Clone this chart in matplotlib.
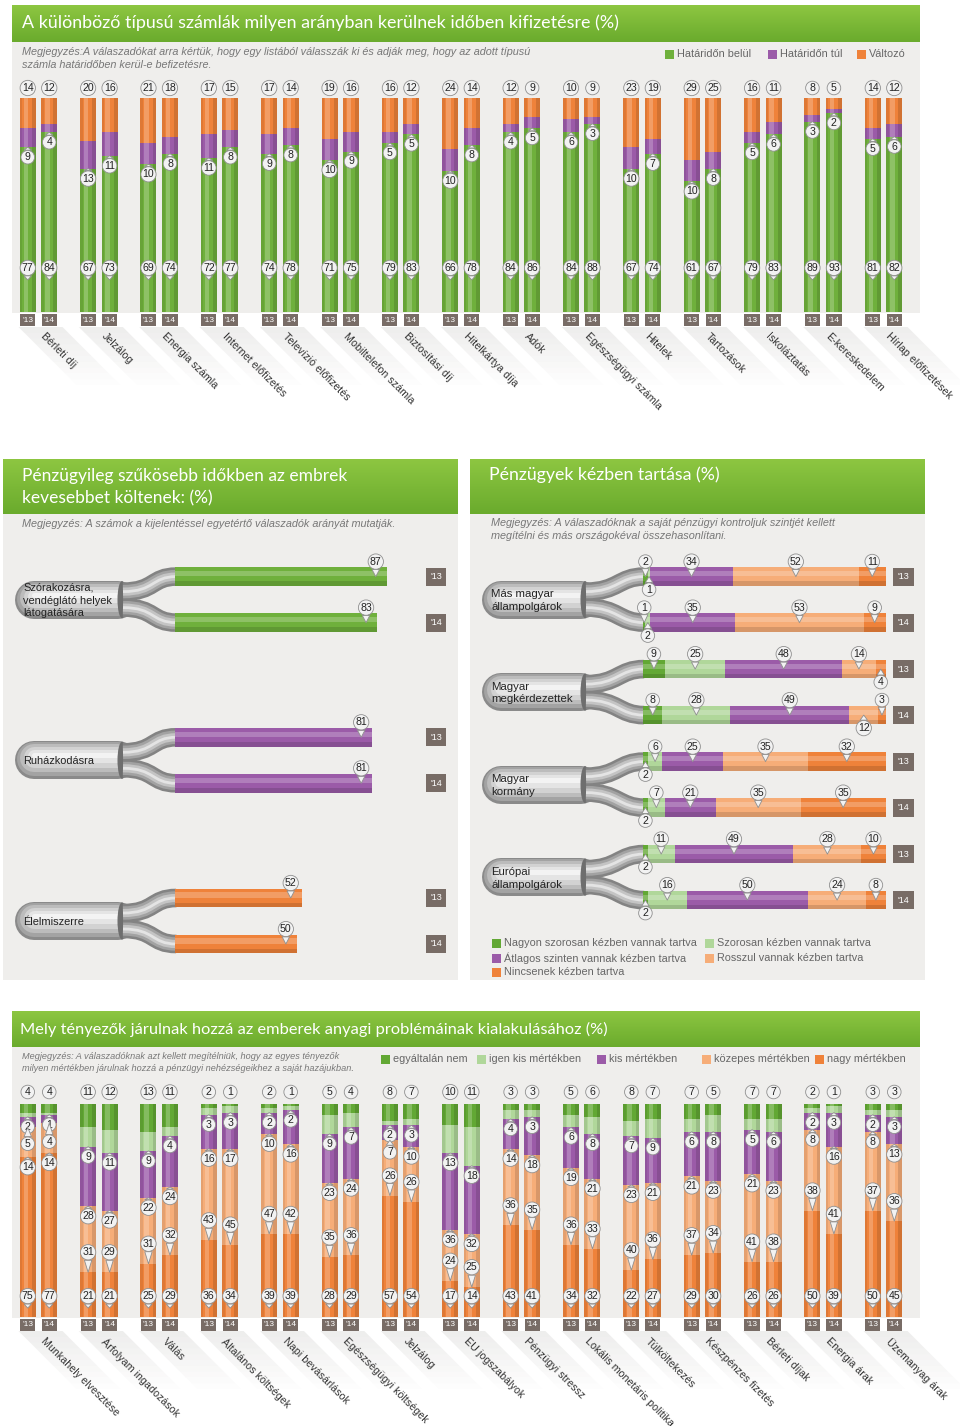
import numpy as np
import matplotlib
matplotlib.use("Agg")
import matplotlib.pyplot as plt
from matplotlib.colors import LinearSegmentedColormap
from matplotlib.patches import Rectangle, Polygon, PathPatch, Ellipse
from matplotlib.path import Path
import matplotlib.transforms as mtrans

plt.rcParams['font.family'] = ['Liberation Sans', 'DejaVu Sans']
TITLE_FONT = ['Lato', 'DejaVu Sans']

# ---------------- data ----------------
years = ["'13", "'14"]

# 1) számlák befizetése
bills = ['Bérleti díj', 'Jelzálog', 'Energia számla', 'Internet előfizetés',
         'Televízió előfizetés', 'Mobiltelefon számla', 'Biztosítási díj',
         'Hitelkártya díja', 'Adók', 'Egészségügyi számla', 'Hitelek',
         'Tartozások', 'Iskoláztatás', 'E-kereskedelem', 'Hírlap előfizetések']
ontime_13 = [77, 67, 69, 72, 74, 71, 79, 66, 84, 84, 67, 61, 79, 89, 81]
ontime_14 = [84, 73, 74, 77, 78, 75, 83, 78, 86, 88, 74, 67, 83, 93, 82]
late_13 = [9, 13, 10, 11, 9, 10, 5, 10, 4, 6, 10, 10, 5, 3, 5]
late_14 = [4, 11, 8, 8, 8, 9, 5, 8, 5, 3, 7, 8, 6, 2, 6]
varies_13 = [14, 20, 21, 17, 17, 19, 16, 24, 12, 10, 23, 29, 16, 8, 14]
varies_14 = [12, 16, 18, 15, 14, 16, 12, 14, 9, 9, 19, 25, 11, 5, 12]
bill_legend = ['Határidőn belül', 'Határidőn túl', 'Változó']

# 2) kevesebbet költenek
spend_cats = ['Szórakozásra,\nvendéglátó helyek\nlátogatására', 'Ruházkodásra', 'Élelmiszerre']
spend_13 = [87, 81, 52]
spend_14 = [83, 81, 50]

# 3) pénzügyek kézben tartása
ctrl_groups = ['Más magyar\nállampolgárok', 'Magyar\nmegkérdezettek', 'Magyar\nkormány',
               'Európai\nállampolgárok']
ctrl_levels = ['Nagyon szorosan kézben vannak tartva', 'Szorosan kézben vannak tartva',
               'Átlagos szinten vannak kézben tartva', 'Rosszul vannak kézben tartva',
               'Nincsenek kézben tartva']
ctrl_13 = [[2, 1, 34, 52, 11], [9, 25, 48, 14, 4], [2, 6, 25, 35, 32], [2, 11, 49, 28, 10]]
ctrl_14 = [[1, 2, 35, 53, 9], [8, 28, 49, 12, 3], [2, 7, 21, 35, 35], [2, 16, 50, 24, 8]]

# 4) tényezők
factors = ['Munkahely elvesztése', 'Árfolyam ingadozások', 'Válás', 'Általános költségek',
           'Napi bevásárlások', 'Egészségügyi költségek', 'Jelzálog', 'EU jogszabályok',
           'Pénzügyi stressz', 'Lokális monetáris politika', 'Túlköltekezés',
           'Készpénzes fizetés', 'Bérleti díjak', 'Energia árak', 'Üzemanyag árak']
factor_legend = ['egyáltalán nem', 'igen kis mértékben', 'kis mértékben',
                 'közepes mértékben', 'nagy mértékben']
f_none_13 = [4, 11, 13, 2, 2, 5, 8, 10, 3, 5, 8, 7, 7, 2, 3]
f_none_14 = [4, 12, 11, 1, 1, 4, 7, 11, 3, 6, 7, 5, 7, 1, 3]
f_vlow_13 = [2, 9, 9, 3, 2, 9, 2, 13, 4, 6, 7, 6, 5, 2, 2]
f_vlow_14 = [1, 11, 4, 3, 2, 7, 3, 18, 3, 8, 9, 8, 6, 3, 3]
f_low_13 = [5, 28, 22, 16, 10, 23, 7, 36, 14, 19, 23, 21, 21, 8, 8]
f_low_14 = [4, 27, 24, 17, 16, 24, 10, 32, 18, 21, 21, 23, 23, 16, 13]
f_mid_13 = [14, 31, 31, 43, 47, 35, 26, 24, 36, 36, 40, 37, 41, 38, 37]
f_mid_14 = [14, 29, 32, 45, 42, 36, 26, 25, 35, 33, 36, 34, 38, 41, 36]
f_high_13 = [75, 21, 25, 36, 39, 28, 57, 17, 43, 34, 22, 29, 26, 50, 50]
f_high_14 = [77, 21, 29, 34, 39, 29, 54, 14, 41, 32, 27, 30, 26, 39, 45]

# ---------------- style ----------------
GREEN = '#6fb03c'
PURPLE = '#9b5ba8'
ORANGE = '#ef823a'
DARK_GREEN = '#62a834'
LIGHT_GREEN = '#b0d79a'
LIGHT_ORANGE = '#f6ad78'
PANEL = '#efeeec'
YEAR_BG = '#786c66'
NOTE = '#777777'
PIN_FC = '#f2f2f2'
PIN_EC = '#8f8f8f'
CTRL_COLORS = [DARK_GREEN, LIGHT_GREEN, PURPLE, LIGHT_ORANGE, ORANGE]
FACT_COLORS = [DARK_GREEN, LIGHT_GREEN, PURPLE, LIGHT_ORANGE, ORANGE]
SPEND_COLORS = [GREEN, PURPLE, ORANGE]

W, H = 960, 1426
fig = plt.figure(figsize=(W / 100, H / 100), dpi=100)
fig.patch.set_facecolor('white')


def px_axes(x0, y0, x1, y1, z=1):
    ax = fig.add_axes([x0 / W, 1 - y1 / H, (x1 - x0) / W, (y1 - y0) / H], zorder=z)
    ax.set_axis_off()
    return ax


bg = px_axes(0, 0, W, H, z=0)
hdr_cmap = LinearSegmentedColormap.from_list('hdr', ['#8dc641', '#6aab2d'])


def panel(x0, x1, y0, yh, y1):
    bg.imshow(np.linspace(0, 1, 64).reshape(-1, 1), extent=(x0, x1, yh, y0), cmap=hdr_cmap,
              aspect='auto', zorder=1, interpolation='bilinear')
    bg.add_patch(Rectangle((x0, yh), x1 - x0, y1 - yh, fc=PANEL, ec='none', zorder=0.5))


def legend_items(xs, y, labels, colors, fs):
    for x, lab, c in zip(xs, labels, colors):
        bg.add_patch(Rectangle((x, y - 4.5), 9, 9, fc=c, ec='none', zorder=3))
        bg.text(x + 12, y, lab, fontsize=fs, color='#666666', va='center', zorder=3)


def pin(ax, x, y, val, dy, arrow=True, fs=7.6):
    kw = dict(xy=(x, y), xytext=(0, dy * 0.72), textcoords='offset points', ha='center',
              va='center', fontsize=fs, color='#222222', zorder=8, annotation_clip=False,
              bbox=dict(boxstyle='circle,pad=0.17', fc=PIN_FC, ec=PIN_EC, lw=0.6))
    if arrow:
        kw['arrowprops'] = dict(arrowstyle='wedge,tail_width=0.7,shrink_factor=0.5',
                                fc=PIN_FC, ec=PIN_EC, lw=0.6, shrinkA=0, shrinkB=0)
    ax.annotate(str(val), **kw)


def year_tag(ax, x, y, txt, dy, fs=6, pad=0.25, trans=None):
    ax.annotate(txt, xy=(x, y), xycoords=trans or 'data', xytext=(0, dy * 0.72),
                textcoords='offset points', ha='center', va='center', fontsize=fs,
                color='white', annotation_clip=False, zorder=6,
                bbox=dict(boxstyle='square,pad=%s' % pad, fc=YEAR_BG, ec='none'))


def shine_v(ax, xs, w):
    ax.bar(xs - w * 0.12, 100, w * 0.28, color='white', alpha=0.22, lw=0)
    ax.bar(xs + w * 0.38, 100, w * 0.24, color='black', alpha=0.12, lw=0)
    ax.bar(xs - w * 0.42, 100, w * 0.16, color='black', alpha=0.07, lw=0)


def shine_h(ax, y, length, h):
    ax.barh(y - h * 0.16, length, h * 0.28, color='white', alpha=0.22, lw=0)
    ax.barh(y + h * 0.38, length, h * 0.24, color='black', alpha=0.13, lw=0)


def shadow(cx, ytop, length, n=10):
    for s in range(n):
        t0, t1 = s * length / n, (s + 1) * length / n
        bg.add_patch(Polygon([(cx - 20 + t0, ytop + t0), (cx + 24 + t0, ytop + t0),
                              (cx + 24 + t1, ytop + t1), (cx - 20 + t1, ytop + t1)],
                             closed=True, fc='#c4c2c0', ec='none',
                             alpha=0.28 * (1 - s / n), zorder=1))


def cable(x0, x1, xb, ym, dy, tube=18.6):
    shades = [(38, '#8a8a8a', 0), (34, '#a3a3a3', -1), (28, '#bcbcbc', -2),
              (21, '#d2d2d2', -3), (13, '#e4e4e4', -4), (5, '#f3f3f3', -5)]
    for w, c, sh in shades:
        bg.plot([x0 + 19, x1 - 19], [ym + sh, ym + sh], lw=w * 0.72, color=c,
                solid_capstyle='round', zorder=2)
    for s in (1, -1):
        verts = [(x1 - 14, ym + s * 8), (x1 + 18, ym + s * 8),
                 (xb - 24, ym + s * dy), (xb + 1, ym + s * dy)]
        path = Path(verts, [Path.MOVETO, Path.CURVE4, Path.CURVE4, Path.CURVE4])
        for w, c in [(tube, '#838383'), (tube * 0.72, '#a2a2a2'), (tube * 0.44, '#c4c4c4'),
                     (tube * 0.15, '#e4e4e4')]:
            bg.add_patch(PathPatch(path, fill=False, lw=w * 0.72, ec=c, capstyle='butt',
                                   zorder=3))
    bg.add_patch(Ellipse((x1 - 15, ym), 9, 37, fc='#6e6e6e', ec='none', zorder=2.5))


# ============ 1) számlák ============
panel(12, 920, 5, 42, 313)
bg.text(22, 23, 'A különböző típusú számlák milyen arányban kerülnek időben kifizetésre (%)',
        color='white', fontsize=12.9, family=TITLE_FONT, va='center', zorder=3)
bg.text(22, 58.5, 'Megjegyzés:A válaszadókat arra kértük, hogy egy listából válasszák ki és adják '
        'meg, hogy az adott típusú\nszámla határidőben kerül-e befizetésre.',
        style='italic', fontsize=7.8, color=NOTE, va='center', linespacing=1.35, zorder=3)
legend_items([665, 768, 857], 54, bill_legend, [GREEN, PURPLE, ORANGE], 7.8)

X1, DX = 38.5, 60.36
BW, BO = 0.265, 0.178


def bar_axes(y0, y1):
    ax = px_axes(0, y0, W, y1, z=2)
    ax.set_xlim(-X1 / DX, (W - X1) / DX)
    ax.set_ylim(0, 100)
    return ax


ax1 = bar_axes(98, 312)
idx = np.arange(len(bills))
for k, (g, p, o) in enumerate([(ontime_13, late_13, varies_13),
                               (ontime_14, late_14, varies_14)]):
    xs = idx + (2 * k - 1) * BO
    ax1.bar(xs, g, BW, color=GREEN, lw=0)
    ax1.bar(xs, p, BW, bottom=g, color=PURPLE, lw=0)
    ax1.bar(xs, o, BW, bottom=np.add(g, p), color=ORANGE, lw=0)
    shine_v(ax1, xs, BW)
    for x, gv, pv, ov in zip(xs, g, p, o):
        pin(ax1, x, 100, ov, 10, arrow=False)
        pin(ax1, x, gv, pv, -10)
        pin(ax1, x, 15, gv, 12)
        year_tag(ax1, x, 0, years[k], -8)
for i, name in enumerate(bills):
    shadow(X1 + DX * i, 327, 58)
    ax1.annotate(name, xy=(i, 0), xytext=(8 * 0.72, -19 * 0.72), textcoords='offset points',
                 rotation=-45, rotation_mode='anchor', ha='left', va='top', fontsize=7.7,
                 color='#333333', annotation_clip=False)

# ============ 2) kevesebbet költenek ============
panel(3, 458, 459, 514, 980)
bg.text(22, 487, 'Pénzügyileg szűkösebb időkben az embrek\nkevesebbet költenek: (%)',
        color='white', fontsize=12.5, family=TITLE_FONT, va='center', linespacing=1.45, zorder=3)
bg.text(22, 524, 'Megjegyzés: A számok a kijelentéssel egyetértő válaszadók arányát mutatják.',
        style='italic', fontsize=7.8, color=NOTE, va='center', zorder=3)

LX0, LSX, LY0, LSY = 175.3, 2.43, 599.6, 160.7
axL = px_axes(0, 530, 460, 980, z=2)
axL.set_xlim(-LX0 / LSX, (460 - LX0) / LSX)
axL.set_ylim((980 - LY0) / LSY, (530 - LY0) / LSY)
offL, bhL = 23 / LSY, 18.6 / LSY
yrL = mtrans.blended_transform_factory(axL.transAxes, axL.transData)
for g, (cat, c) in enumerate(zip(spend_cats, SPEND_COLORS)):
    ym = LY0 + LSY * g
    cable(15, 137, LX0, ym, 23)
    bg.text(23, ym + 1, cat, va='center', fontsize=7.9, color='#222222', linespacing=1.35,
            zorder=5)
    for k, vals in enumerate([spend_13, spend_14]):
        yb = g + (2 * k - 1) * offL
        axL.barh(yb, vals[g], bhL, color=c, lw=0)
        shine_h(axL, yb, vals[g], bhL)
        pin(axL, vals[g] - 4.5, yb, vals[g], 15)
        year_tag(axL, 436 / 460, yb, years[k], 0, fs=6.5, pad=0.5, trans=yrL)

# ============ 3) pénzügyek kézben tartása ============
panel(470, 925, 459, 514, 980)
bg.text(489, 475, 'Pénzügyek kézben tartása (%)', color='white', fontsize=12.8,
        family=TITLE_FONT, va='center', zorder=3)
bg.text(491, 529.5, 'Megjegyzés: A válaszadóknak a saját pénzügyi kontroljuk szintjét kellett\n'
        'megítélni és más országokéval összehasonlítani.',
        style='italic', fontsize=7.8, color=NOTE, va='center', linespacing=1.3, zorder=3)

RX0, RSX, RY0, RSY = 643, 2.426, 599.6, 92.5
axR = px_axes(470, 530, 926, 930, z=2)
axR.set_xlim((470 - RX0) / RSX, (926 - RX0) / RSX)
axR.set_ylim((930 - RY0) / RSY, (530 - RY0) / RSY)
offR, bhR = 23 / RSY, 18.6 / RSY
yrR = mtrans.blended_transform_factory(axR.transAxes, axR.transData)
ctrl_below = {(0, 0): [1], (0, 1): [1], (1, 0): [4], (1, 1): [3],
              (2, 0): [0], (2, 1): [0], (3, 0): [0], (3, 1): [0]}
for g, grp in enumerate(ctrl_groups):
    ym = RY0 + RSY * g
    cable(482, 600, RX0, ym, 23)
    bg.text(491, ym + 1, grp, va='center', fontsize=8.2, color='#222222', linespacing=1.35,
            zorder=5)
    for k, data in enumerate([ctrl_13, ctrl_14]):
        yb = g + (2 * k - 1) * offR
        vals = data[g]
        lefts = np.concatenate([[0], np.cumsum(vals)[:-1]])
        for j, (v, l) in enumerate(zip(vals, lefts)):
            axR.barh(yb, v, bhR, left=l, color=CTRL_COLORS[j], lw=0)
        shine_h(axR, yb, sum(vals), bhR)
        for j, (v, l) in enumerate(zip(vals, lefts)):
            below = j in ctrl_below.get((g, k), [])
            pin(axR, l + v / 2, yb, v, -13 if below else 15)
        year_tag(axR, (903.5 - 470) / 456, yb, years[k], 0, fs=6.5, pad=0.5, trans=yrR)

legend_items([492, 705], 943, ctrl_levels[0:2], CTRL_COLORS[0:2], 7.8)
legend_items([492, 705], 958, ctrl_levels[2:4], CTRL_COLORS[2:4], 7.8)
legend_items([492], 972, ctrl_levels[4:5], CTRL_COLORS[4:5], 7.8)

# ============ 4) tényezők ============
panel(12, 920, 1011, 1047, 1318)
bg.text(20, 1029, 'Mely tényezők járulnak hozzá az emberek anyagi problémáinak '
        'kialakulásához (%)', color='white', fontsize=11.8, family=TITLE_FONT, va='center',
        zorder=3)
bg.text(22, 1062.5, 'Megjegyzés: A válaszadóknak azt kellett megítélniük, hogy az egyes tényezők\n'
        'milyen mértékben járulnak hozzá a pénzügyi nehézségeikhez a saját hazájukban.',
        style='italic', fontsize=6.6, color=NOTE, va='center', linespacing=1.3, zorder=3)
legend_items([381, 477, 597, 702, 815], 1059, factor_legend, FACT_COLORS, 7.8)

TOP3, SY3 = 1104, 2.13
ax3 = bar_axes(TOP3, 1317)
for k, parts in enumerate([(f_none_13, f_vlow_13, f_low_13, f_mid_13, f_high_13),
                           (f_none_14, f_vlow_14, f_low_14, f_mid_14, f_high_14)]):
    xs = idx + (2 * k - 1) * BO
    bottom = np.zeros(len(factors))
    for j in range(4, -1, -1):
        ax3.bar(xs, parts[j], BW, bottom=bottom, color=FACT_COLORS[j], lw=0)
        bottom = bottom + np.array(parts[j])
    shine_v(ax3, xs, BW)
    for n, x in enumerate(xs):
        v = [parts[j][n] for j in range(5)]
        cum = np.cumsum(v)
        pin(ax3, x, 100, v[0], 12, arrow=False)
        # igen kis / kis mértékben: below their lower edge, pointing up
        prev = TOP3 - 12
        for j in (1, 2):
            tip = TOP3 + cum[j] * SY3
            c = max(tip + 10, prev + 17)
            pin(ax3, x, 100 - cum[j], v[j], -(c - tip))
            prev = c
        # közepes: above its lower edge if there is room
        tip = TOP3 + cum[3] * SY3
        if tip - 20 >= prev + 17:
            pin(ax3, x, 100 - cum[3], v[3], 20)
        else:
            c = max(tip + 10, prev + 17)
            pin(ax3, x, 100 - cum[3], v[3], -(c - tip))
        pin(ax3, x, 4.2, v[4], 12)
        year_tag(ax3, x, 0, years[k], -8)
for i, name in enumerate(factors):
    shadow(X1 + DX * i, 1331, 58)
    ax3.annotate(name, xy=(i, 0), xytext=(8 * 0.72, -19 * 0.72), textcoords='offset points',
                 rotation=-45, rotation_mode='anchor', ha='left', va='top', fontsize=7.7,
                 color='#333333', annotation_clip=False)

bg.set_xlim(0, W)
bg.set_ylim(H, 0)
fig.savefig('out.png', dpi=100)
